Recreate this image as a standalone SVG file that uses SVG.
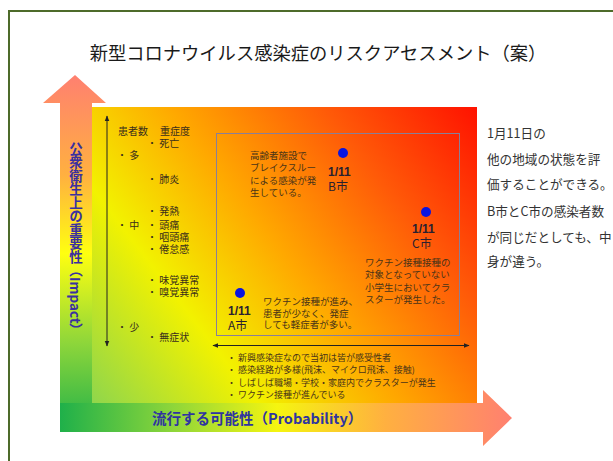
<svg xmlns="http://www.w3.org/2000/svg" width="613" height="461" viewBox="0 0 613 461">
<defs>
<linearGradient id="gSq" gradientUnits="userSpaceOnUse" x1="92" y1="403" x2="477" y2="107">
<stop offset="0" stop-color="#8fd64c"/>
<stop offset="0.27" stop-color="#f2f200"/>
<stop offset="0.5" stop-color="#ffa800"/>
<stop offset="0.75" stop-color="#ff5a08"/>
<stop offset="1" stop-color="#ff1200"/>
</linearGradient>
<linearGradient id="gV" gradientUnits="userSpaceOnUse" x1="0" y1="432" x2="0" y2="75">
<stop offset="0" stop-color="#1fb04a"/>
<stop offset="0.25" stop-color="#8ed63a"/>
<stop offset="0.5" stop-color="#ffff10"/>
<stop offset="0.72" stop-color="#ffb040"/>
<stop offset="1" stop-color="#ff8070"/>
</linearGradient>
<linearGradient id="gH" gradientUnits="userSpaceOnUse" x1="60" y1="0" x2="512" y2="0">
<stop offset="0" stop-color="#1fb04a"/>
<stop offset="0.25" stop-color="#8ed63a"/>
<stop offset="0.48" stop-color="#f5f510"/>
<stop offset="0.72" stop-color="#ffb040"/>
<stop offset="1" stop-color="#ff8070"/>
</linearGradient>
<marker id="ah" viewBox="0 0 10 10" refX="9" refY="5" markerWidth="6" markerHeight="6" orient="auto-start-reverse">
<path d="M0,1 L10,5 L0,9 z" fill="#222"/>
</marker>
<style>
.jp{font-family:"Noto Sans CJK JP","Noto Sans",sans-serif;}
.li{font-size:10px;fill:#3a2e1c;}
.nt{font-size:9.5px;fill:#4a3418;}
.pl{font-size:9px;fill:#4a3418;}
.nl{font-family:"Liberation Sans","Noto Sans CJK JP",sans-serif;font-size:12px;font-weight:bold;fill:#2a2030;}
.city{font-family:"Noto Sans CJK JP",sans-serif;font-size:12px;fill:#2a2030;}
.rt{font-size:12.6px;fill:#333;}
.ax{font-size:14.5px;font-weight:bold;fill:#2f35a0;}
.axv{font-size:13.5px;font-weight:bold;fill:#3a30a0;writing-mode:vertical-rl;}
.dot{fill:#0a14e0;}
</style>
</defs>
<rect x="0" y="0" width="613" height="461" fill="#ffffff"/>
<rect x="9" y="11" width="640" height="480" fill="none" stroke="#4e6b2a" stroke-width="2"/>
<text class="jp" x="318" y="60" font-size="18.3" fill="#1a1a1a" text-anchor="middle">新型コロナウイルス感染症のリスクアセスメント（案）</text>

<g id="arrow-impact">
<polygon points="60,432 60,103 43,103 75,75 106,103 92,103 92,432" fill="url(#gV)"/>
</g>
<g id="arrow-probability">
<polygon points="60,403 483,403 483,390 512,418 483,446 483,432 60,432" fill="url(#gH)"/>
</g>
<g id="matrix">
<rect x="92" y="107" width="385" height="296" fill="url(#gSq)"/>
<rect x="216.5" y="133.5" width="243" height="202" fill="none" stroke="#8a7f98" stroke-width="1"/>
</g>

<g id="connectors">
<line x1="107" y1="346" x2="107" y2="116" stroke="#222" stroke-width="1" marker-start="url(#ah)" marker-end="url(#ah)"/>
<line x1="213" y1="345.5" x2="469" y2="345.5" stroke="#222" stroke-width="1" marker-start="url(#ah)" marker-end="url(#ah)"/>
</g>

<g id="severity-list" class="jp li">
<text x="118" y="135">患者数</text>
<text x="160" y="135">重症度</text>
<text x="147" y="147">・ 死亡</text>
<text x="117" y="159">・ 多</text>
<text x="147" y="183">・ 肺炎</text>
<text x="147" y="215">・ 発熱</text>
<text x="117" y="229">・ 中</text>
<text x="147" y="229">・ 頭痛</text>
<text x="147" y="241">・ 咽頭痛</text>
<text x="147" y="253">・ 倦怠感</text>
<text x="147" y="284">・ 味覚異常</text>
<text x="147" y="296">・ 嗅覚異常</text>
<text x="117" y="331">・ 少</text>
<text x="147" y="341">・ 無症状</text>
</g>

<g id="node-b">
<circle class="dot" cx="343" cy="153" r="5"/>
<text class="nl" x="328" y="176">1/11</text>
<text class="city" x="328" y="191">B市</text>
<g class="jp nt">
<text x="250" y="159">高齢者施設で</text>
<text x="250" y="171">ブレイクスルー</text>
<text x="250" y="184">による感染が発</text>
<text x="250" y="196">生している。</text>
</g>
</g>

<g id="node-c">
<circle class="dot" cx="426" cy="212" r="5"/>
<text class="nl" x="412" y="233">1/11</text>
<text class="city" x="412" y="248">C市</text>
<g class="jp nt">
<text x="365" y="266">ワクチン接種接種の</text>
<text x="365" y="278">対象となっていない</text>
<text x="365" y="291">小学生においてクラ</text>
<text x="365" y="303">スターが発生した。</text>
</g>
</g>

<g id="node-a">
<circle class="dot" cx="240" cy="293" r="5"/>
<text class="nl" x="228" y="315">1/11</text>
<text class="city" x="228" y="330">A市</text>
<g class="jp nt">
<text x="263" y="305">ワクチン接種が進み、</text>
<text x="263" y="317">患者が少なく、発症</text>
<text x="263" y="328">しても軽症者が多い。</text>
</g>
</g>

<g id="probability-list" class="jp pl">
<text x="227" y="361">・</text><text x="238" y="361">新興感染症なので当初は皆が感受性者</text>
<text x="227" y="373">・</text><text x="238" y="373">感染経路が多様(飛沫、マイクロ飛沫、接触)</text>
<text x="227" y="386">・</text><text x="238" y="386">しばしば職場・学校・家庭内でクラスターが発生</text>
<text x="227" y="398">・</text><text x="238" y="398">ワクチン接種が進んでいる</text>
</g>

<g id="note" class="jp rt">
<text x="487" y="138">1月11日の</text>
<text x="487" y="164">他の地域の状態を評</text>
<text x="487" y="189">価することができる。</text>
<text x="487" y="216">B市とC市の感染者数</text>
<text x="487" y="242">が同じだとしても、中</text>
<text x="487" y="266">身が違う。</text>
</g>

<g id="axis-labels">
<text class="jp axv" x="76" y="142">公衆衛生上の重要性（Impact）</text>
<text class="jp ax" x="152" y="424">流行する可能性（Probability）</text>
</g>
</svg>
